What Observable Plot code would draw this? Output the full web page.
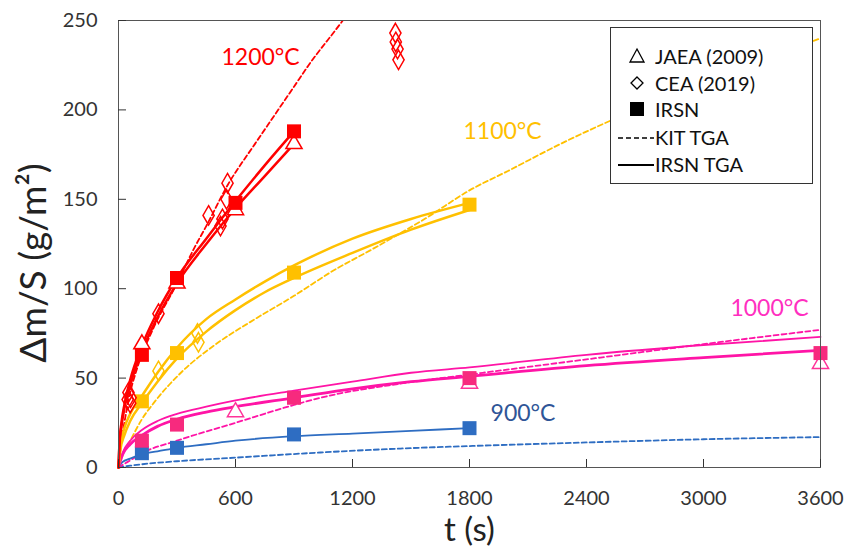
<!DOCTYPE html>
<html><head><meta charset="utf-8">
<script src="https://cdn.jsdelivr.net/npm/d3@7"></script>
<script src="https://cdn.jsdelivr.net/npm/@observablehq/plot@0.6"></script>
<style>
body{margin:0;background:#fff;font-family:Lato,sans-serif}
#wrap{position:relative;width:845px;height:547px}
#legend{position:absolute;left:610px;top:27px;width:203px;height:157px;box-sizing:border-box;border:1px solid #333;background:#fff;font-size:20px;color:#111}
.row{position:absolute;left:0;height:26px;display:flex;align-items:center}
.row svg{display:block}
</style></head><body><div id="wrap"><div id="legend"></div></div>
<script>
// ---- tick values ----
const xTicks = [0, 600, 1200, 1800, 2400, 3000, 3600];
const yTicks = [0, 50, 100, 150, 200, 250];

// ---- temperature labels [t, value, text] ----
const tempLabels = [[528, 229, "1200°C"], [1769, 188, "1100°C"], [3138, 89, "1000°C"], [1908, 30, "900°C"]];

// ---- IRSN squares [t, Δm/S] ----
const irsn1200 = [[120, 63], [300, 106], [600, 148], [900, 188]];
const irsn1100 = [[120, 37], [300, 64], [900, 109], [1800, 147]];
const irsn1000 = [[120, 15], [300, 24], [900, 39], [1800, 50], [3600, 64]];
const irsn900 = [[120, 8], [300, 11], [900, 18.5], [1800, 22]];

// ---- JAEA (2009) triangles ----
const jaea1200 = [[120, 69], [300, 103], [600, 144], [900, 181]];
const jaea1000 = [[600, 31], [1800, 47], [3600, 58]];

// ---- CEA (2019) diamonds ----
const cea1200 = [[51, 42], [62, 39], [60, 36], [47, 38], [205, 86], [462, 141], [523, 135], [533, 139], [554, 150], [559, 159], [1420, 243], [1422, 238], [1431, 234], [1436, 228]];
const cea1100 = [[205, 54], [405, 75], [410, 70]];

// ---- KIT TGA (dashed) ----
const kit1200 = [[0, 0], [15, 15], [30, 25], [50, 37], [100, 57], [175, 77], [300, 103], [385, 122], [450, 135], [560, 158], [700, 181], [800, 197], [900, 213], [975, 225], [1150, 250], [1170, 253]];
const kit1100 = [[0, 0], [15, 5], [30, 9], [60, 15], [120, 27], [180, 36], [320, 53], [500, 69], [700, 83], [900, 96], [1100, 110], [1300, 122], [1585, 140], [1800, 155], [2000, 166], [2267, 181], [2523, 194], [3000, 215], [3300, 228], [3600, 240]];
const kit1000 = [[0, 0], [30, 2], [60, 4], [120, 8], [300, 15], [600, 25], [900, 35], [1036, 39], [1450, 47], [1800, 52], [2472, 61.5], [3000, 69], [3600, 77]];
const kit900 = [[0, 0], [60, 1], [120, 1.8], [300, 3.5], [600, 5.5], [1036, 8.4], [1446, 10.6], [1800, 12], [2400, 14], [3000, 15.8], [3600, 17]];

// ---- IRSN TGA (solid) ----
const tga1200a = [[0, 0], [5, 14], [15, 25], [30, 35], [60, 49], [120, 68], [200, 87], [300, 106], [450, 128], [600, 149], [750, 169], [900, 188]];
const tga1200b = [[0, 0], [5, 13], [15, 23], [30, 33], [60, 46], [120, 65], [200, 84], [300, 103], [450, 125], [600, 145], [750, 163], [900, 181]];
const tga1100a = [[0, 0], [10, 12], [30, 22], [60, 30], [120, 40], [200, 53], [300, 67], [450, 83], [600, 94], [750, 104], [900, 113], [1200, 128], [1500, 139], [1800, 148]];
const tga1100b = [[0, 0], [10, 10], [30, 18], [60, 26], [120, 36], [200, 48], [300, 61], [450, 76], [600, 88], [750, 98], [900, 106], [1200, 120], [1500, 133], [1800, 144]];
const tga1000a = [[0, 0], [20, 8], [60, 15], [120, 21], [200, 26], [300, 30], [450, 34], [600, 37.5], [900, 43], [1200, 48], [1500, 53], [1800, 56], [2400, 63], [3000, 68.5], [3600, 73]];
const tga1000b = [[0, 0], [20, 7], [60, 13], [120, 18], [200, 23], [300, 27], [450, 31], [600, 34], [900, 39], [1200, 44], [1500, 48], [1800, 51], [2400, 57], [3000, 61.5], [3600, 65.5]];
const tga900 = [[0, 0], [20, 3], [60, 5], [120, 7.5], [200, 9], [300, 11], [450, 13], [600, 15], [900, 17.5], [1200, 19], [1500, 20.5], [1800, 22]];

const RED = "#FF0000", ORANGE = "#FFC000", PINK = "#FF14A6", PINKSQ = "#F72A7E", BLUE = "#2E6DC2";
const X = d => d[0], Y = d => d[1];
const dash = (data, color, extra = {}) => Plot.line(data, {x: X, y: Y, stroke: color, strokeWidth: 1.8, strokeDasharray: "5,3", curve: "monotone-x", ...extra});
const solid = (data, color, w) => Plot.line(data, {x: X, y: Y, stroke: color, strokeWidth: w, curve: "monotone-x"});
const sq = (data, color) => Plot.dot(data, {x: X, y: Y, symbol: "square", r: 7.9, fill: color, stroke: null});
const tri = (data, color) => Plot.dot(data, {x: X, y: Y, symbol: "triangle", r: 6, fill: "white", stroke: color, strokeWidth: 1.5});
const dia = (data, color) => Plot.dot(data, {x: X, y: Y, symbol: "diamond", r: 5.9, fill: "none", stroke: color, strokeWidth: 1.5});

const chart = Plot.plot({
  width: 845, height: 547,
  marginLeft: 118, marginRight: 25, marginTop: 20, marginBottom: 80,
  x: {domain: [0, 3600]}, y: {domain: [0, 250]},
  style: {fontFamily: "Lato, sans-serif", color: "#333", background: "white"},
  marks: [
    dash(kit900, BLUE), dash(kit1000, PINK), dash(kit1100, ORANGE), dash(kit1200, RED, {clip: true}),
    solid(tga900, BLUE, 1.8), solid(tga1000a, PINK, 1.8), solid(tga1000b, PINK, 2.8),
    solid(tga1100a, ORANGE, 2.5), solid(tga1100b, ORANGE, 2.5),
    solid(tga1200a, RED, 2.5), solid(tga1200b, RED, 2.5),
    tri(jaea1000, "#FF3399"), tri(jaea1200, RED),
    sq(irsn900, BLUE), sq(irsn1000, PINKSQ), sq(irsn1100, ORANGE), sq(irsn1200, RED),
    dia(cea1100, ORANGE), dia(cea1200, RED),
    Plot.text(tempLabels, {x: X, y: Y, text: d => d[2], textAnchor: "start", fontSize: 23,
      fill: (d, i) => ["#FF0000", "#FFC000", "#FF2FC0", "#2F5597"][i]}),
    Plot.frame({stroke: "#555"}),
    Plot.axisX(xTicks, {tickSize: -8, tickFormat: () => "", label: null, stroke: "#333"}),
    Plot.axisY(yTicks, {tickSize: -8, tickFormat: () => "", label: null, stroke: "#333"}),
    Plot.axisX(xTicks, {tickSize: 0, tickPadding: 23, fontSize: 20, label: null, tickFormat: d => String(d)}),
    Plot.axisY(yTicks, {tickSize: 0, tickPadding: 21, fontSize: 20, label: null, tickFormat: d => String(d)}),
    Plot.text(["Δm/S (g/m²)"], {frameAnchor: "left", textAnchor: "middle", dx: -84, dy: 19, rotate: -90, fontSize: 37, fill: "#222"}),
    Plot.text(["t (s)"], {frameAnchor: "bottom", textAnchor: "middle", dy: 73, fontSize: 33, fill: "#222"})
  ]
});
document.getElementById("wrap").prepend(chart);

// ---- legend ----
const legendItems = [
  {label: "JAEA (2009)", kind: "triangle"},
  {label: "CEA (2019)", kind: "diamond"},
  {label: "IRSN", kind: "square"},
  {label: "KIT TGA", kind: "dash"},
  {label: "IRSN TGA", kind: "solid"}
];
const legendTops = [15, 42, 68, 96, 123];
const legend = document.getElementById("legend");
legendItems.forEach((it, i) => {
  const row = document.createElement("div");
  row.className = "row";
  row.style.top = legendTops[i] + "px";
  let g = "";
  if (it.kind === "triangle") g = '<path d="M26,6 L33,19 L19,19 Z" fill="white" stroke="#000" stroke-width="1.3"/>';
  if (it.kind === "diamond") g = '<path d="M26,7 L32,13 L26,19 L20,13 Z" fill="none" stroke="#000" stroke-width="1.3"/>';
  if (it.kind === "square") g = '<rect x="19" y="6" width="14" height="14" fill="#000"/>';
  if (it.kind === "dash") g = '<line x1="7" y1="14" x2="43" y2="14" stroke="#000" stroke-width="1.5" stroke-dasharray="5,3"/>';
  if (it.kind === "solid") g = '<line x1="7" y1="14" x2="43" y2="14" stroke="#000" stroke-width="1.8"/>';
  row.innerHTML = '<svg width="43" height="26">' + g + '</svg><span style="margin-left:1px">' + it.label + '</span>';
  legend.appendChild(row);
});
</script></body></html>
